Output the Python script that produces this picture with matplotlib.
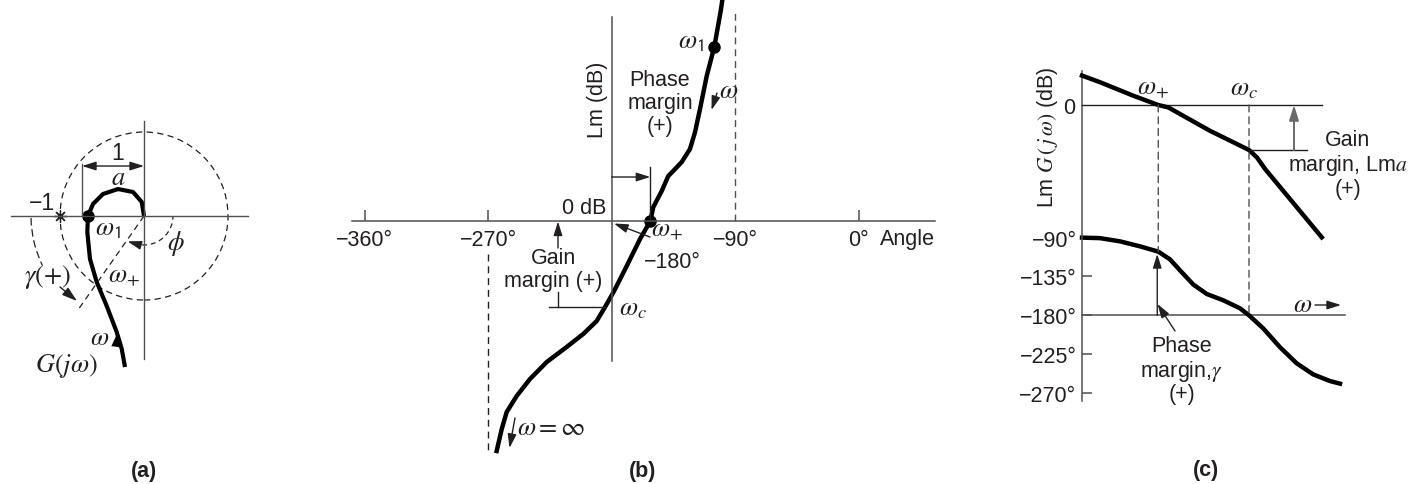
import numpy as np
import matplotlib
matplotlib.use("Agg")
import matplotlib.pyplot as plt
from matplotlib.patches import Circle, Arc, ConnectionPatch

W, H, DPI = 1421, 485, 100
plt.rcParams['font.family'] = ['Liberation Sans', 'DejaVu Sans']
plt.rcParams['mathtext.fontset'] = 'stix'

INK = '#231f20'
AXC = '#505050'
FS = 15.5
MFS = 19

# ---------------- data ----------------
# (a) polar plot of G(jw) (units of the unit circle)
nyq_re = [0.0, -0.027, -0.131, -0.310, -0.488, -0.607, -0.667, -0.675, -0.643,
          -0.563, -0.444, -0.325, -0.265, -0.226]
nyq_im = [0.0, 0.167, 0.286, 0.321, 0.262, 0.143, 0.0, -0.19, -0.512,
          -0.786, -1.071, -1.381, -1.583, -1.798]
w1_a = (-0.667, 0.0)
minus_one = (-1.0, 0.0)
wplus_dir_deg = -125.1
a_dim_re = -0.738          # position of the "1" / a dimension line

# (b) log magnitude vs angle
ang_b = [-99.2, -100.5, -105.2, -110.7, -115.6, -119.2, -122.9, -128.9, -135.1,
         -138.7, -143.5, -149.6, -151.8, -159.3, -169.0, -178.2, -184.8, -190.9,
         -200.7, -212.8, -227.3, -239.5, -249.2, -256.5, -260.1, -263.8]
lm_b = [22.2, 21.0, 17.4, 14.5, 11.2, 8.9, 7.2, 5.9, 5.0,
        4.5, 3.0, 1.4, 0.0, -1.8, -4.5, -7.0, -8.6, -10.0,
        -11.3, -12.6, -14.1, -15.8, -17.5, -19.1, -20.8, -23.0]
b_ticks = [-360, -270, -90, 0]
b_ticklabels = ['\u2212360°', '\u2212270°', '\u221290°', '0°']
w1_b = (-105.2, 17.4)
wplus_b = (-151.8, 0.0)
wc_b = (-184.8, -8.6)
pm_level_b = 4.4
gm_angle_b = -219.1

# (c) Bode plots (log frequency in arbitrary units)
u_mag = [0.0, 0.72, 2.05, 3.05, 3.45, 3.92, 5.12, 6.68, 7.0, 7.32, 9.59]
lm_c = [9.8, 7.6, 3.1, 0.0, -0.8, -3.0, -8.6, -15.0, -17.5, -21.3, -44.1]
u_ph = [0.0, 0.72, 1.52, 2.32, 3.05, 3.52, 3.92, 4.45, 4.99, 5.65, 6.32, 6.68,
        7.25, 7.92, 8.59, 9.25, 9.92, 10.32]
ph_c = [-90, -90.6, -94.3, -100.1, -106.2, -115.2, -127.9, -144.3, -155.3, -162.6,
        -171.9, -180, -195.2, -217.0, -235.7, -248.5, -256.2, -259.2]
c_ticks = [-90, -135, -180, -225, -270]
c_ticklabels = ['\u221290°', '\u2212135°', '\u2212180°', '\u2212225°', '\u2212270°']
wplus_c = 3.05
wc_c = 6.68
gm_c = -15.0
ph_at_wplus = -106.2

fig = plt.figure(figsize=(W / DPI, H / DPI), dpi=DPI)

W1 = r'$\omega_{\mathsf{1}}$'
WP = r'$\omega_{+}$'
WC = r'$\omega_{c}$'


def full_axes(xmap, ymap):
    ax = fig.add_axes([0, 0, 1, 1])
    ax.set_xlim(xmap(0), xmap(W))
    ax.set_ylim(ymap(H), ymap(0))
    ax.patch.set_visible(False)
    for s in ax.spines.values():
        s.set_visible(False)
    ax.set_xticks([])
    ax.set_yticks([])
    return ax


def txt(x, y, s, size=FS, ha='center', va='center', **kw):
    fig.text(x / W, 1 - y / H, s, size=size, color=INK, ha=ha, va=va, **kw)


def parrow(ax, p0, p1, c0='figure pixels', c1='figure pixels', style='-|>',
           color=INK, lw=1.0, ms=13):
    if c0 == 'figure pixels':
        p0 = (p0[0], H - p0[1])
    if c1 == 'figure pixels':
        p1 = (p1[0], H - p1[1])
    ax.annotate('', xy=p1, xycoords=c1, xytext=p0, textcoords=c0,
                arrowprops=dict(arrowstyle=style + ',head_length=0.7,head_width=0.22',
                                color=color, lw=lw, shrinkA=0, shrinkB=0,
                                mutation_scale=ms))


# ================= (a) =================
axa = full_axes(lambda p: (p - 144) / 84, lambda p: (217 - p) / 84)
for side, pos, b in (('left', 0, (-1.702, 1.131)), ('bottom', 0, (-1.583, 1.238))):
    sp = axa.spines[side]
    sp.set_visible(True)
    sp.set_position(('data', pos))
    sp.set_bounds(*b)
    sp.set_color(AXC)
    sp.set_linewidth(1.0)
axa.add_patch(Circle((0, 0), 1.0, fill=False, ls=(0, (5, 3.5)), lw=0.9, ec=INK))
axa.plot(nyq_re, nyq_im, color='black', lw=3.0, solid_capstyle='butt')
axa.plot(*w1_a, 'o', color='black', ms=8)
axa.plot(*minus_one, marker=(8, 2, 0), color=INK, ms=9, mew=0.9)
d = np.deg2rad(wplus_dir_deg)
axa.plot([0, 1.345 * np.cos(d)], [0, 1.345 * np.sin(d)], color=INK, lw=0.9,
         ls=(0, (5, 3.5)))
# phi arc
axa.add_patch(Arc((0, 0), 0.69, 0.69, theta1=wplus_dir_deg + 14, theta2=0,
                  ls=(0, (4, 3)), lw=0.9, color=INK))
t0, t1 = np.deg2rad(wplus_dir_deg + 16), np.deg2rad(wplus_dir_deg + 2)
parrow(axa, (0.345 * np.cos(t0), 0.345 * np.sin(t0)), (0.36 * np.cos(t1), 0.36 * np.sin(t1)),
       c0='data', c1='data', ms=12)
# gamma arc
axa.add_patch(Arc((0, 0), 2.69, 2.69, theta1=181, theta2=206,
                  ls=(0, (6, 3)), lw=0.9, color=INK))
parrow(axa, (60, 288), (77, 302))
# "1" dimension
axa.plot([a_dim_re, a_dim_re], [0, 0.62], color=AXC, lw=1.0)
parrow(axa, (a_dim_re, 0.595), (0, 0.595), c0='data', c1='data', style='<|-|>', ms=12)
# direction arrow on curve
parrow(axa, (-0.33, -1.56), (-0.305, -1.37), c0='data', c1='data', lw=0.1, ms=16,
       color='black')
txt(118, 153, '1', size=FS + 1)
txt(118, 178, r'$a$', size=MFS)
txt(42, 203, '\u22121', size=FS + 1)
txt(108, 229, W1, size=MFS)
txt(176, 243, r'$\phi$', size=MFS)
txt(48, 277, r'$\gamma(+)$', size=MFS)
txt(124, 277, WP, size=MFS)
txt(100, 338, r'$\omega$', size=MFS)
txt(66, 366, r'$G(j\omega)$', size=MFS)
txt(144, 472, '(a)', size=FS, weight='bold')

# ================= (b) =================
axb = full_axes(lambda p: (p - 858.6) / 1.372, lambda p: (222 - p) / 10)
sp = axb.spines['bottom']
sp.set_visible(True); sp.set_position(('data', 0)); sp.set_bounds(-369.2, 55.7)
sp.set_color(AXC); sp.set_linewidth(1.1)
sp = axb.spines['left']
sp.set_visible(True); sp.set_position(('data', -180)); sp.set_bounds(-14.0, 20.4)
sp.set_color(AXC); sp.set_linewidth(1.1)
axb.set_xticks(b_ticks)
axb.set_xticklabels(b_ticklabels)
axb.tick_params(axis='x', direction='in', length=8, width=1.1, color=AXC,
                labelsize=FS, labelcolor=INK, pad=6)
axb.xaxis.get_major_ticks()[2].tick1line.set_visible(False)
# dashed asymptotes
axb.plot([-90, -90], [0, 20.9], color=AXC, lw=1.0, ls=(0, (5, 3.5)))
axb.plot([-270, -270], [-3.3, -23.1], color=INK, lw=1.0, ls=(0, (5, 3.5)))
axb.plot(ang_b, lm_b, color='black', lw=3.2)
axb.plot(*w1_b, 'o', color='black', ms=8)
axb.plot(*wplus_b, 'o', color='black', ms=8)
# phase margin
parrow(axb, (-180, pm_level_b), (wplus_b[0], pm_level_b), c0='data', c1='data', ms=12)
axb.plot([wplus_b[0], wplus_b[0]], [pm_level_b + 1.0, wplus_b[1]], color=INK, lw=1.0)
# gain margin
axb.plot([-225.6, wc_b[0]], [wc_b[1], wc_b[1]], color=INK, lw=1.0)
axb.plot([gm_angle_b, gm_angle_b], [wc_b[1] + 1.5, wc_b[1]], color=INK, lw=1.0)
parrow(axb, (gm_angle_b, -2.7), (gm_angle_b, -0.05), c0='data', c1='data', ms=12)
# -180 pointer, omega arrows
parrow(axb, (650, 238), (-178.3, -0.25), c1='data', ms=12)
parrow(axb, (717, 94), (711.5, 111), ms=12)
parrow(axb, (515, 419), (509.5, 449), ms=12)
txt(598, 100, 'Lm (dB)', rotation=90)
txt(584, 209, '0 dB')
txt(907, 240, 'Angle')
txt(553, 258, 'Gain')
txt(553, 282, 'margin (+)')
txt(660, 80, 'Phase')
txt(660, 103, 'margin')
txt(660, 127, '(+)')
txt(691, 42, W1, size=MFS)
txt(729, 91, r'$\omega$', size=MFS)
txt(667, 231, WP, size=MFS)
txt(672, 263, '\u2212180°')
txt(633, 309, WC, size=MFS)
txt(551, 428, r'$\omega = \infty$', size=MFS)
txt(643, 472, '(b)', weight='bold')

# ================= (c) =================
ux = lambda p: (p - 1082) / 25
axp = full_axes(ux, lambda p: -180 - (p - 316.3) / 0.863)
axm = full_axes(ux, lambda p: (106 - p) / 3)
sp = axp.spines['left']
sp.set_visible(True); sp.set_position(('data', 0)); sp.set_bounds(-279.3, 103)
sp.set_color(AXC); sp.set_linewidth(1.1)
axp.set_yticks(c_ticks)
axp.set_yticklabels(c_ticklabels)
axp.tick_params(axis='y', direction='in', length=7, width=1.1, color=AXC,
                labelsize=FS, labelcolor=INK, pad=4)
axm.spines['left'].set_position(('data', 0))
axm.set_yticks([0])
axm.set_yticklabels(['0'])
axm.tick_params(axis='y', length=0, labelsize=FS, labelcolor=INK, pad=5)

axm.plot([0, 9.59], [0, 0], color=INK, lw=1.0)
axp.plot([0, 10.52], [-180, -180], color=AXC, lw=1.1)
axm.plot(u_mag, lm_c, color='black', lw=3.2)
axp.plot(u_ph, ph_c, color='black', lw=3.2)
for uu, yb in ((wplus_c, ph_at_wplus), (wc_c, -180)):
    cp = ConnectionPatch((uu, 0), (uu, yb), coordsA=axm.transData, coordsB=axp.transData,
                         ls=(0, (5, 3.5)), lw=1.0, color=AXC)
    fig.add_artist(cp)
# gain margin
axm.plot([wc_c, 8.99], [gm_c, gm_c], color=INK, lw=1.0)
parrow(axm, (8.48, gm_c), (8.48, 0), c0='data', c1='data', color='#6a6a6a', lw=1.4, ms=13)
# phase margin
parrow(axp, (wplus_c - 0.04, -180), (wplus_c - 0.04, -109), c0='data', c1='data', ms=12)
parrow(axp, (1175, 332), (1157.5, 305), ms=12)
parrow(axp, (1315, 306), (1341, 306), ms=12)

txt(1047, 137, r'Lm $G\,(\,j\,\omega)$ (dB)', rotation=90)
txt(1153, 89, WP, size=MFS)
txt(1244, 89, WC, size=MFS)
txt(1348, 141, 'Gain')
txt(1348, 166, r'margin, Lm$a$')
txt(1348, 190, '(+)')
txt(1303, 305, r'$\omega$', size=MFS)
txt(1182, 347, 'Phase')
txt(1182, 372, r'margin,$\gamma$')
txt(1182, 395, '(+)')
txt(1206, 471, '(c)', weight='bold')

fig.savefig('out.png', dpi=DPI)
